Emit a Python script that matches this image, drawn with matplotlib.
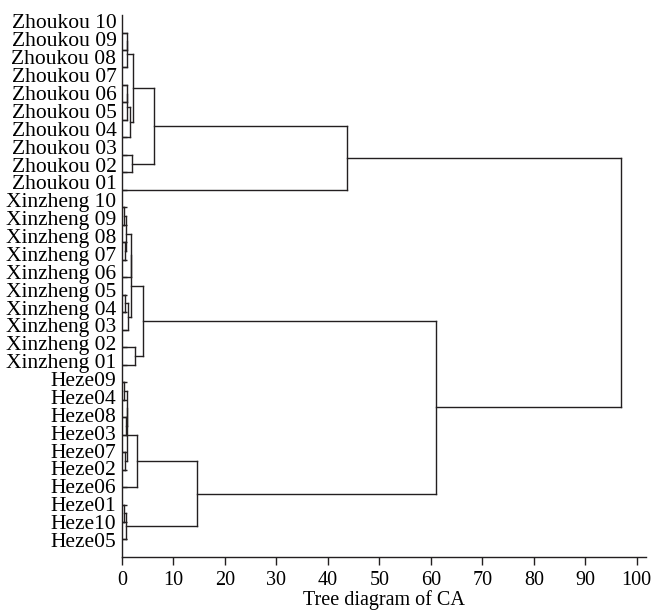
import matplotlib.pyplot as plt

# leaf labels, top to bottom
labels = ["Zhoukou 10", "Zhoukou 09", "Zhoukou 08", "Zhoukou 07", "Zhoukou 06",
          "Zhoukou 05", "Zhoukou 04", "Zhoukou 03", "Zhoukou 02", "Zhoukou 01",
          "Xinzheng 10", "Xinzheng 09", "Xinzheng 08", "Xinzheng 07", "Xinzheng 06",
          "Xinzheng 05", "Xinzheng 04", "Xinzheng 03", "Xinzheng 02", "Xinzheng 01",
          "Heze09", "Heze04", "Heze08", "Heze03", "Heze07",
          "Heze02", "Heze06", "Heze01", "Heze10", "Heze05"]

# merges: (left node, right node, distance); leaves are 0..29, merge k is node 30+k
merges = [
    (0, 1, 1.0), (30, 2, 1.05), (3, 4, 0.9), (32, 5, 1.0), (33, 6, 1.6),
    (31, 34, 2.2), (7, 8, 2.0), (35, 36, 6.3), (37, 9, 43.7),
    (10, 11, 0.3), (12, 13, 0.6), (39, 40, 0.7), (41, 14, 1.7), (15, 16, 0.6),
    (43, 17, 1.2), (42, 44, 1.7), (18, 19, 2.5), (45, 46, 4.0),
    (20, 21, 0.4), (22, 23, 0.8), (48, 49, 0.9), (24, 25, 0.5), (50, 51, 1.0),
    (52, 26, 2.9), (27, 28, 0.4), (54, 29, 0.8), (53, 55, 14.6),
    (47, 56, 61.0), (38, 57, 96.9),
]

xticks = [0, 10, 20, 30, 40, 50, 60, 70, 80, 90, 100]

plt.rcParams['font.family'] = ['Liberation Serif', 'DejaVu Serif']
ink = '#231f20'

fig = plt.figure(figsize=(6.53, 6.13), dpi=100)
ax = fig.add_axes([0.1868, 0.0914, 0.8025, 0.8841])

n = len(labels)
pos = {i: (0.0, float(i)) for i in range(n)}
for k, (a, b, h) in enumerate(merges):
    xa, ya = pos[a]
    xb, yb = pos[b]
    ax.plot([xa, h], [ya, ya], color=ink, lw=1.0, solid_capstyle='projecting')
    ax.plot([xb, h], [yb, yb], color=ink, lw=1.0, solid_capstyle='projecting')
    ax.plot([h, h], [ya, yb], color=ink, lw=1.0, solid_capstyle='projecting')
    pos[n + k] = (h, (ya + yb) / 2)

ax.set_xlim(0, 101.8)
ax.set_ylim(n, -1)

# the labels sit slightly out of step with the leaf rows, as in the source
label_rows = [-0.63 + i * (29.66 / 29) for i in range(n)]
ax.set_yticks(label_rows)
ax.set_yticklabels(labels, fontsize=15.5)
ax.tick_params(axis='y', which='major', length=0, pad=4)
ax.set_yticks(range(n), minor=True)
ax.tick_params(axis='y', which='minor', direction='in', length=3.3, width=1.0, color=ink)

ax.set_xticks(xticks)
ax.set_xticklabels([str(t) for t in xticks], fontsize=14.5)
ax.tick_params(axis='x', direction='out', length=6, width=1.0, color=ink, pad=4)
ax.set_xlabel("Tree diagram of CA", fontsize=14.5, labelpad=0)

for s in ['top', 'right']:
    ax.spines[s].set_visible(False)
for s in ['left', 'bottom']:
    ax.spines[s].set_color(ink)
    ax.spines[s].set_linewidth(1.0)

fig.savefig("out.png", dpi=100)
